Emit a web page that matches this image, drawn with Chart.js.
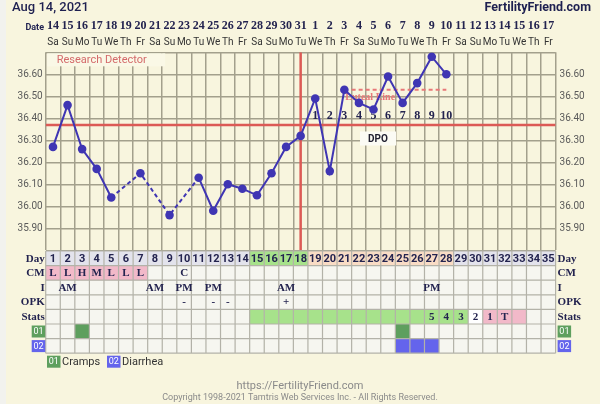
<!DOCTYPE html>
<html>
<head>
<meta charset="utf-8">
<script src="https://cdn.jsdelivr.net/npm/chart.js@4.4.0/dist/chart.umd.min.js"></script>
<style>
html, body { margin: 0; padding: 0; background: #f8f5de; }
#wrap { position: relative; width: 600px; height: 404px; }
</style>
</head>
<body>
<div id="wrap"><canvas id="bbtChart" width="600" height="404"></canvas></div>
<script>
// Cycle data
const cycleDays = [1,2,3,4,5,6,7,8,9,10,11,12,13,14,15,16,17,18,19,20,21,22,23,24,25,26,27,28,29,30,31,32,33,34,35];
const dates = ['14','15','16','17','18','19','20','21','22','23','24','25','26','27','28','29','30','31','1','2','3','4','5','6','7','8','9','10','11','12','13','14','15','16','17'];
const weekdays = ['Sa','Su','Mo','Tu','We','Th','Fr','Sa','Su','Mo','Tu','We','Th','Fr','Sa','Su','Mo','Tu','We','Th','Fr','Sa','Su','Mo','Tu','We','Th','Fr','Sa','Su','Mo','Tu','We','Th','Fr'];
const temps = [36.27, 36.46, 36.26, 36.17, 36.04, null, 36.15, null, 35.96, null, 36.13, 35.98, 36.10, 36.08, 36.05, 36.15, 36.27, 36.32, 36.49, 36.16, 36.53, 36.47, 36.44, 36.59, 36.47, 36.56, 36.68, 36.60];
const coverline = 36.37;
const lutealLevel = 36.53;
const lutealStart = 21.5;
const lutealEnd = 28;
const ovulationDay = 18;
const dpoLabels = ['','','','','','','','','','','','','','','','','','','1','2','3','4','5','6','7','8','9','10'];

// Axis ticks
const tempTicks = [35.80,35.85,35.90,35.95,36.00,36.05,36.10,36.15,36.20,36.25,36.30,36.35,36.40,36.45,36.50,36.55,36.60,36.65,36.70];
const tempLabels = ['35.90','36.00','36.10','36.20','36.30','36.40','36.50','36.60'];

// Table rows
const cmRow = ['L','L','H','M','L','L','L','','','C'];
const cmPink = [1,2,3,4,5,6,7];
const intercourseRow = {2:'AM', 8:'AM', 10:'PM', 12:'PM', 17:'AM', 27:'PM'};
const opkRow = {10:'-', 12:'-', 13:'-', 17:'+'};
const statsRow = {27:'5', 28:'4', 29:'3', 30:'2', 31:'1', 32:'T'};
const statsGreen = [15,16,17,18,19,20,21,22,23,24,25,26,27,28,29];
const statsWhite = [30];
const statsPink = [31,32,33];
const crampDays = [3, 25];
const diarrheaDays = [25, 26, 27];
const dayGreen = [15,16,17,18];
const dayPeach = [19,20,21,22,23,24,25,26,27,28];

const C = {
  bg: '#f8f5de',
  grid: '#a3a08c',
  cell: '#f6f6f0',
  cellLine: '#b3b2a8',
  navy: '#23234f',
  temp: '#3f35b3',
  red: '#dc5a55',
  salmon: '#e87878',
  lavender: '#e3e3ec',
  green: '#a7e28b',
  peach: '#f9dcc5',
  pink: '#f2b9c9',
  dkgreen: '#5e9f5e',
  blue: '#6464ec'
};

const rowLabels = ['Day','CM','I','OPK','Stats'];

function txt(ctx, s, x, y, font, color, align) {
  ctx.font = font;
  ctx.fillStyle = color;
  ctx.textAlign = align || 'center';
  ctx.textBaseline = 'middle';
  ctx.fillText(s, x, y);
}

const ffPlugin = {
  id: 'ffTable',
  beforeDraw(chart) {
    const ctx = chart.ctx;
    ctx.save();
    ctx.fillStyle = '#f2f2ee';
    ctx.fillRect(0, 0, 6, 404);
    ctx.restore();
  },
  beforeDatasetsDraw(chart) {
    const ctx = chart.ctx, x = chart.scales.x, y = chart.scales.y, a = chart.chartArea;
    ctx.save();
    // Research detector tag
    ctx.fillStyle = '#faf8e6';
    ctx.fillRect(a.left + 1.5, a.top + 1, 118, 13);
    txt(ctx, 'Research Detector', a.left + 11, a.top + 8, '11px Roboto', '#d46a6a', 'left');
    // DPO tag
    ctx.fillStyle = '#fbfbf4';
    ctx.fillRect(360, y.getPixelForValue(36.34), 36, 14);
    txt(ctx, 'DPO', 378, y.getPixelForValue(36.34) + 7.5, 'bold 10px Roboto', '#1f1f2f');
    // DPO numbers
    dpoLabels.forEach((s, i) => {
      if (!s) return;
      txt(ctx, s, x.getPixelForValue(cycleDays[i]), y.getPixelForValue(36.39) - 4.5, 'bold 12px "Liberation Serif"', C.navy);
    });
    // Luteal line label
    txt(ctx, 'Luteal Line', x.getPixelForValue(21) + 1, y.getPixelForValue(lutealLevel) + 8, 'bold 10px "Liberation Serif"', C.salmon, 'left');
    ctx.restore();
  },
  afterDraw(chart) {
    const ctx = chart.ctx, x = chart.scales.x, a = chart.chartArea;
    ctx.save();
    // Header
    txt(ctx, 'Aug 14, 2021', 12, 8, '500 13px Roboto', '#1e2050', 'left');
    txt(ctx, 'FertilityFriend.com', 591, 8, 'bold 12.5px Roboto', '#1e2050', 'right');
    txt(ctx, 'Date', 44, 28, 'bold 9px Roboto', '#1e2050', 'right');
    cycleDays.forEach((d, i) => {
      const cx = x.getPixelForValue(d);
      txt(ctx, dates[i], cx, 26, 'bold 12px "Liberation Serif"', C.navy);
      txt(ctx, weekdays[i], cx, 42, '10px Roboto', '#333', 'center');
    });

    // Table
    const top = a.bottom + 0.7;
    const rh = 14.6;
    const nRows = 7;
    const cellFill = (d, r, color) => {
      const l = x.getPixelForValue(d - 0.5), rr = x.getPixelForValue(d + 0.5);
      ctx.fillStyle = color;
      ctx.fillRect(l, top + r * rh, rr - l, rh);
    };
    cycleDays.forEach(d => {
      for (let r = 0; r < nRows; r++) cellFill(d, r, C.cell);
      cellFill(d, 0, C.lavender);
    });
    dayGreen.forEach(d => cellFill(d, 0, C.green));
    dayPeach.forEach(d => cellFill(d, 0, C.peach));
    cmPink.forEach(d => cellFill(d, 1, C.pink));
    statsGreen.forEach(d => cellFill(d, 4, C.green));
    statsWhite.forEach(d => cellFill(d, 4, '#ffffff'));
    statsPink.forEach(d => cellFill(d, 4, C.pink));
    crampDays.forEach(d => cellFill(d, 5, C.dkgreen));
    diarrheaDays.forEach(d => cellFill(d, 6, C.blue));

    // table grid lines
    ctx.strokeStyle = C.cellLine;
    ctx.lineWidth = 1.2;
    ctx.beginPath();
    const tl = x.getPixelForValue(0.5), tr = x.getPixelForValue(35.5);
    for (let r = 0; r <= nRows; r++) {
      ctx.moveTo(tl, top + r * rh);
      ctx.lineTo(tr, top + r * rh);
    }
    cycleDays.concat([36]).forEach(d => {
      const px = x.getPixelForValue(d - 0.5);
      ctx.moveTo(px, top);
      ctx.lineTo(px, top + nRows * rh);
    });
    ctx.stroke();

    // cell texts
    cycleDays.forEach((d, i) => {
      const cx = x.getPixelForValue(d);
      txt(ctx, String(d), cx, top + rh * 0.5 + 0.5, 'bold 11px Roboto', C.navy);
      if (cmRow[i]) txt(ctx, cmRow[i], cx, top + rh * 1.5 + 0.5, 'bold 11px "Liberation Serif"', C.navy);
      if (intercourseRow[d]) txt(ctx, intercourseRow[d], cx, top + rh * 2.5 + 0.5, 'bold 11px "Liberation Serif"', C.navy);
      if (opkRow[d]) txt(ctx, opkRow[d], cx, top + rh * 3.5, 'bold 11px "Liberation Serif"', C.navy);
      if (statsRow[d]) txt(ctx, statsRow[d], cx, top + rh * 4.5 + 0.5, 'bold 11px "Liberation Serif"', C.navy);
    });

    // row labels
    rowLabels.forEach((s, r) => {
      txt(ctx, s, tl - 1, top + rh * (r + 0.5) + 0.5, 'bold 11px "Liberation Serif"', C.navy, 'right');
      txt(ctx, s, tr + 2, top + rh * (r + 0.5) + 0.5, 'bold 11px "Liberation Serif"', C.navy, 'left');
    });
    const tag = (s, bx, by, color) => {
      ctx.fillStyle = color;
      ctx.fillRect(bx, by, 13.5, 12);
      txt(ctx, s, bx + 6.8, by + 6.5, '9px Roboto', '#ffffff');
    };
    tag('01', tl - 14, top + rh * 5 + 1.5, C.dkgreen);
    tag('02', tl - 14, top + rh * 6 + 1.5, C.blue);
    tag('01', tr + 2, top + rh * 5 + 1.5, C.dkgreen);
    tag('02', tr + 2, top + rh * 6 + 1.5, C.blue);

    // legend
    const ly = top + rh * 7 + 2.5;
    tag('01', 47, ly, C.dkgreen);
    txt(ctx, 'Cramps', 62, ly + 6.5, '11px Roboto', '#333', 'left');
    tag('02', 107, ly, C.blue);
    txt(ctx, 'Diarrhea', 122, ly + 6.5, '11px Roboto', '#333', 'left');

    // footer
    txt(ctx, 'https://FertilityFriend.com', 300, 386, '11px Roboto', '#8a8a8a');
    txt(ctx, 'Copyright 1998-2021 Tamtris Web Services Inc. - All Rights Reserved.', 300, 398, '9px Roboto', '#8a8a8a');
    ctx.restore();
  }
};

// dashed where a day was skipped
const gapDash = (ctx) => (ctx.p0.skip || ctx.p1.skip ? [4, 3] : undefined);

const ctx = document.getElementById('bbtChart').getContext('2d');
const chart = new Chart(ctx, {
  type: 'line',
  data: {
    datasets: [
      {
        label: 'Temperature',
        data: temps.map((t, i) => ({ x: cycleDays[i], y: t === null ? NaN : t })),
        borderColor: C.temp,
        backgroundColor: C.temp,
        borderWidth: 2,
        pointRadius: 4.3,
        pointBorderWidth: 0,
        spanGaps: true,
        segment: { borderDash: gapDash },
        order: 0
      },
      {
        label: 'Luteal Line',
        data: [{ x: lutealStart, y: lutealLevel }, { x: lutealEnd, y: lutealLevel }],
        borderColor: C.salmon,
        borderWidth: 2,
        borderDash: [4, 3],
        pointRadius: 0,
        order: 1
      },
      {
        label: 'Coverline',
        data: [{ x: 0.5, y: coverline }, { x: 35.5, y: coverline }],
        borderColor: C.red,
        borderWidth: 2.5,
        pointRadius: 0,
        order: 2
      },
      {
        label: 'Ovulation',
        data: [{ x: ovulationDay, y: 35.80 }, { x: ovulationDay, y: 36.70 }],
        borderColor: C.red,
        borderWidth: 2.5,
        pointRadius: 0,
        order: 3
      }
    ]
  },
  options: {
    responsive: false,
    animation: false,
    events: [],
    layout: { padding: { top: 52.3, left: 0, right: 0, bottom: 0 } },
    plugins: { legend: { display: false }, tooltip: { enabled: false } },
    scales: {
      x: {
        type: 'linear',
        min: 0.5,
        max: 35.5,
        afterBuildTicks: (scale) => {
          scale.ticks = cycleDays.map(d => ({ value: d - 0.5 })).concat([{ value: 35.5 }]);
        },
        afterFit: (scale) => { scale.height = 153.7; },
        ticks: { display: false },
        grid: { color: C.grid, lineWidth: 1.5, drawTicks: false },
        border: { display: false }
      },
      y: {
        position: 'left',
        min: 35.80,
        max: 36.70,
        afterBuildTicks: (scale) => { scale.ticks = tempTicks.map(v => ({ value: v })); },
        afterFit: (scale) => { scale.width = 45.7; },
        ticks: {
          padding: 3,
          color: '#5a5a5a',
          font: { family: 'Roboto', size: 10 },
          callback: (v) => (tempLabels.includes(v.toFixed(2)) ? v.toFixed(2) : '')
        },
        grid: { color: C.grid, lineWidth: 1.5, drawTicks: false },
        border: { display: false }
      },
      y2: {
        position: 'right',
        min: 35.80,
        max: 36.70,
        afterBuildTicks: (scale) => { scale.ticks = tempTicks.map(v => ({ value: v })); },
        afterFit: (scale) => { scale.width = 44.4; },
        ticks: {
          padding: 4,
          color: '#5a5a5a',
          font: { family: 'Roboto', size: 10 },
          callback: (v) => (tempLabels.includes(v.toFixed(2)) ? v.toFixed(2) : '')
        },
        grid: { display: false, drawTicks: false },
        border: { display: false }
      }
    }
  },
  plugins: [ffPlugin]
});
</script>
</body>
</html>
